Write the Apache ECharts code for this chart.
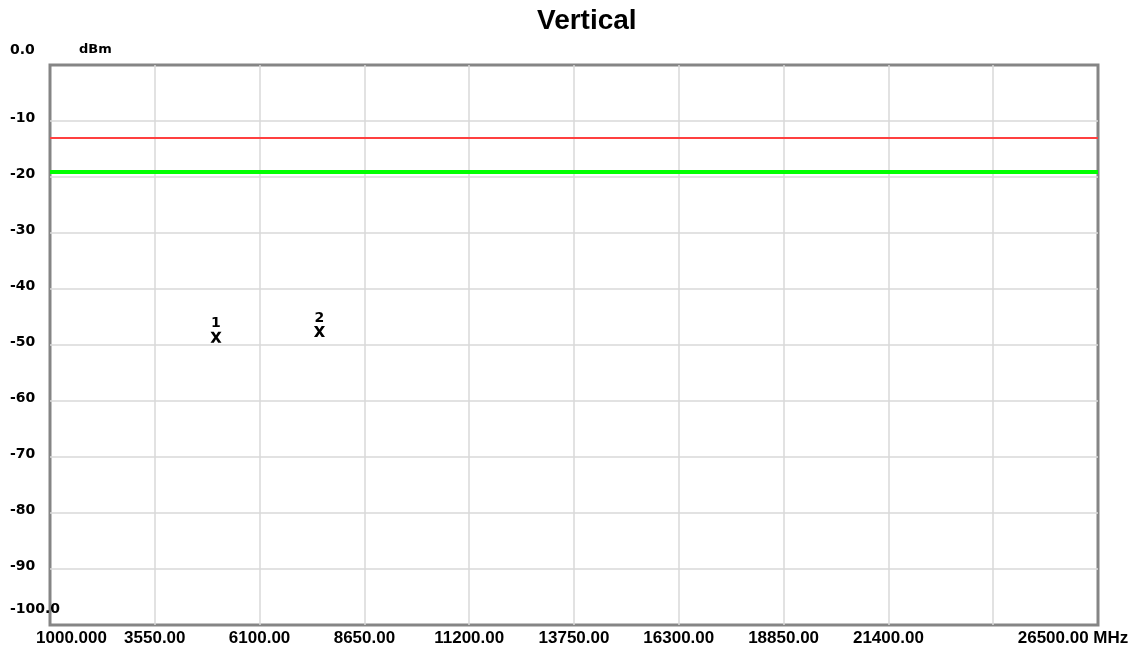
<!DOCTYPE html>
<html>
<head>
<meta charset="utf-8">
<script src="https://cdn.jsdelivr.net/npm/echarts@6/dist/echarts.min.js"></script>
<style>html,body{margin:0;padding:0;background:#fff}#c{width:1140px;height:651px}</style>
</head>
<body>
<div id="c"></div>
<script>
// ---- data ----
var TITLE = 'Vertical';
var Y_UNIT = 'dBm';
var FREQ_START = 1000;      // MHz
var FREQ_STOP = 26500;      // MHz
var FREQ_STEP = 2550;       // MHz
var X_TICK_LABELS = ['1000.000','3550.00','6100.00','8650.00','11200.00','13750.00','16300.00','18850.00','21400.00','','26500.00 MHz'];
var LEVEL_MIN = -100, LEVEL_MAX = 0, LEVEL_STEP = 10;
var Y_TICK_LABELS = ['-100.0','-90','-80','-70','-60','-50','-40','-30','-20','-10','0.0'];
var LIMIT_RED = -13;        // dBm
var LIMIT_GREEN = -19;      // dBm
var MARKER_IDS = ['1','2'];
var MARKER_FREQ = [5039, 7557];      // MHz
var MARKER_LEVEL = [-48.6, -47.6];   // dBm

var chart = echarts.init(document.getElementById('c'));
var markerData = MARKER_IDS.map(function(id,i){ return {value:[MARKER_FREQ[i]-FREQ_START, MARKER_LEVEL[i]], name:id}; });
var Xpath = 'path://M0,0 L3,0 L5,3.2 L7,0 L10,0 L6.5,5 L10,10 L7,10 L5,6.8 L3,10 L0,10 L3.5,5 Z';
var F = 'DejaVu Sans';

chart.setOption({
  animation:false,
  backgroundColor:'#fff',
  title:{text:TITLE,left:532,top:2,textStyle:{fontFamily:'Liberation Sans',fontSize:28,fontWeight:'bold',color:'#000'}},
  grid:{left:50,right:42,top:65,bottom:26,show:true,borderColor:'#858585',borderWidth:3,backgroundColor:'#fff'},
  xAxis:{
    type:'value',min:0,max:FREQ_STOP-FREQ_START,interval:FREQ_STEP,
    axisLine:{show:false},axisTick:{show:false},
    splitLine:{show:true,showMinLine:false,showMaxLine:false,lineStyle:{color:'#d9d9d9',width:1.5}},
    axisLabel:{
      margin:5,color:'#000',fontFamily:'Liberation Sans',fontWeight:'bold',fontSize:17,
      showMinLabel:true,showMaxLabel:true,hideOverlap:false,
      formatter:function(v){
        var i = Math.round(v/FREQ_STEP); var t = X_TICK_LABELS[i]||'';
        if(i===0) return '{a|'+t+'}';
        if(i===X_TICK_LABELS.length-1) return '{b|'+t+'}';
        return t;
      },
      rich:{
        a:{padding:[0,0,0,43],fontFamily:'Liberation Sans',fontWeight:'bold',fontSize:17,color:'#000'},
        b:{padding:[0,50,0,0],fontFamily:'Liberation Sans',fontWeight:'bold',fontSize:17,color:'#000'}
      }
    }
  },
  yAxis:{
    type:'value',min:LEVEL_MIN,max:LEVEL_MAX,interval:LEVEL_STEP,
    name:Y_UNIT,nameLocation:'end',nameGap:15,
    nameTextStyle:{align:'left',verticalAlign:'middle',padding:[0,0,0,29],fontFamily:F,fontWeight:'bold',fontSize:13,color:'#000'},
    axisLine:{show:false},axisTick:{show:false},
    splitLine:{show:true,showMinLine:false,showMaxLine:false,lineStyle:{color:'#d9d9d9',width:1.5}},
    axisLabel:{
      margin:40,align:'left',color:'#000',fontFamily:F,fontWeight:'bold',fontSize:14,
      showMinLabel:true,showMaxLabel:true,
      formatter:function(v){
        var i = Math.round((v-LEVEL_MIN)/LEVEL_STEP); var t = Y_TICK_LABELS[i]||'';
        if(i===0) return '{e|'+t+'}';
        if(i===Y_TICK_LABELS.length-1) return '{t|'+t+'}';
        return '{n|'+t+'}';
      },
      rich:{
        n:{padding:[0,0,5,0],fontFamily:F,fontWeight:'bold',fontSize:14,color:'#000'},
        t:{padding:[0,0,30,0],fontFamily:F,fontWeight:'bold',fontSize:14,color:'#000'},
        e:{padding:[0,0,32,0],fontFamily:F,fontWeight:'bold',fontSize:14,color:'#000'}
      }
    }
  },
  series:[
    {
      type:'line',data:[],silent:true,
      markLine:{symbol:'none',silent:true,label:{show:false},
        data:[
          {yAxis:LIMIT_RED,lineStyle:{color:'#ff4040',width:2,type:'solid',opacity:1}},
          {yAxis:LIMIT_GREEN,lineStyle:{color:'#00ff00',width:4,type:'solid',opacity:1}}
        ]}
    },
    {
      type:'scatter',data:markerData,symbol:Xpath,symbolSize:[11,11],
      itemStyle:{color:'#000',opacity:1},
      label:{show:true,position:'top',distance:1,formatter:'{b}',color:'#000',fontFamily:F,fontWeight:'bold',fontSize:14}
    }
  ]
});
</script>
</body>
</html>
